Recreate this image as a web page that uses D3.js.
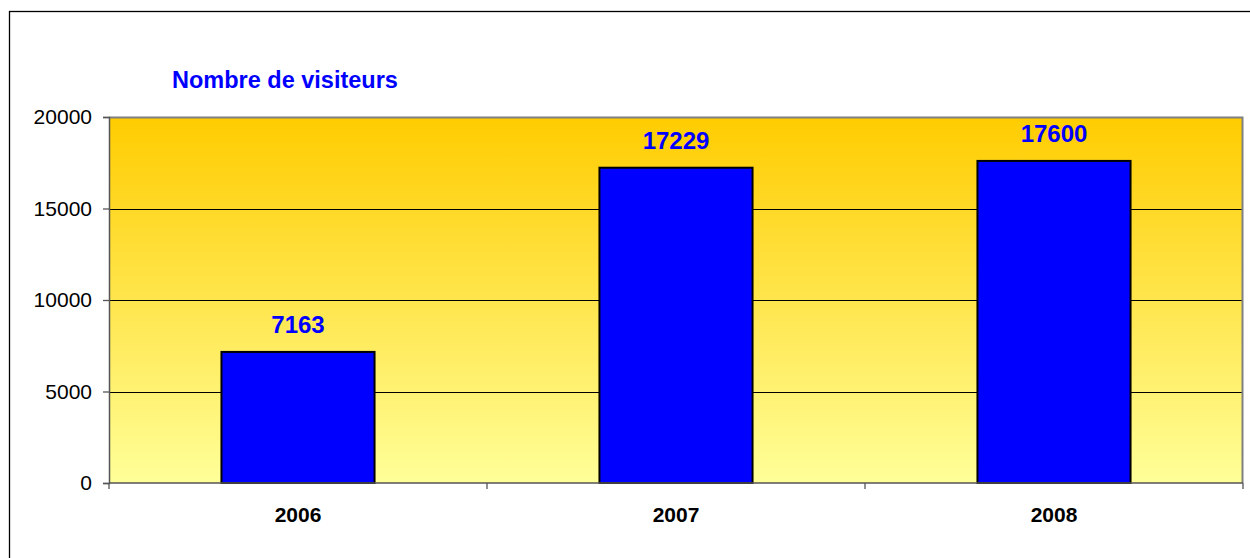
<!DOCTYPE html>
<html><head><meta charset="utf-8">
<script src="https://cdn.jsdelivr.net/npm/d3@7"></script>
<style>
html,body{margin:0;padding:0;background:#fff;}
svg{display:block;font-family:"Liberation Sans",Arial,sans-serif;}
</style></head>
<body>
<svg id="chart" width="1250" height="558"></svg>
<script>
const categories = ["2006", "2007", "2008"];
const visitors = [7163, 17229, 17600];
const yTicks = [0, 5000, 10000, 15000, 20000];
const title = "Nombre de visiteurs";

const svg = d3.select("#chart");
const m = {left: 109, top: 117, right: 1243, bottom: 483};

// outer frame
svg.append("rect").attr("x", 9.5).attr("y", 11.5).attr("width", 1260).attr("height", 570)
  .attr("fill", "#fff").attr("stroke", "#000").attr("stroke-width", 1.3);

const defs = svg.append("defs");
const grad = defs.append("linearGradient").attr("id", "bg").attr("x1", 0).attr("y1", 0).attr("x2", 0).attr("y2", 1);
grad.append("stop").attr("offset", "0%").attr("stop-color", "#FFCC00");
grad.append("stop").attr("offset", "100%").attr("stop-color", "#FFFF99");

const x = d3.scaleBand().domain(categories).range([m.left, m.right]).paddingInner(0.595).paddingOuter(0.2975);
const y = d3.scaleLinear().domain([0, 20000]).range([m.bottom, m.top]);

svg.append("rect").attr("x", m.left).attr("y", m.top).attr("width", m.right - m.left).attr("height", m.bottom - m.top)
  .attr("fill", "url(#bg)");

// gridlines
svg.append("g").selectAll("line").data(yTicks.filter(t => t > 0 && t < 20000)).join("line")
  .attr("x1", m.left).attr("x2", m.right).attr("y1", d => Math.round(y(d)) + 0.5).attr("y2", d => Math.round(y(d)) + 0.5)
  .attr("stroke", "#000").attr("stroke-width", 1);

// plot border top/right
svg.append("path").attr("d", `M${m.left},${m.top + 0.5}H${m.right - 0.5}V${m.bottom}`)
  .attr("fill", "none").attr("stroke", "#808080").attr("stroke-width", 2);

// bars
svg.append("g").selectAll("rect").data(visitors).join("rect")
  .attr("x", (d, i) => x(categories[i])).attr("width", x.bandwidth())
  .attr("y", d => y(d)).attr("height", d => y(0) - y(d))
  .attr("fill", "#0000FF").attr("stroke", "#000").attr("stroke-width", 2);

// value labels
svg.append("g").selectAll("text").data(visitors).join("text")
  .attr("x", (d, i) => x(categories[i]) + x.bandwidth() / 2).attr("y", d => y(d) - 19)
  .attr("text-anchor", "middle").attr("font-size", 24).attr("font-weight", "bold").attr("fill", "#0000FF")
  .text(d => d);

// y axis
const yAxis = d3.axisLeft(y).tickValues(yTicks).tickSize(6).tickPadding(11).tickFormat(d3.format("d"));
const gy = svg.append("g").attr("transform", `translate(${m.left},0)`).call(yAxis);
gy.select(".domain").attr("stroke", "#555").attr("stroke-width", 1.5);
gy.selectAll(".tick line").attr("stroke", "#555").attr("stroke-width", 1.3);
gy.selectAll(".tick text").attr("font-size", 21).attr("fill", "#000").attr("font-family", "Liberation Sans, Arial, sans-serif");

// x axis
const gx = svg.append("g").attr("transform", `translate(0,${m.bottom})`);
gx.append("line").attr("x1", m.left).attr("x2", m.right).attr("stroke", "#555").attr("stroke-width", 1.5);
const bounds = [m.left].concat(categories.map(c => x(c) + x.bandwidth() / 2 + x.step() / 2));
gx.selectAll("line.tk").data(bounds).join("line").attr("class", "tk")
  .attr("x1", d => d).attr("x2", d => d).attr("y1", 0).attr("y2", 6).attr("stroke", "#555").attr("stroke-width", 1.3);
gx.selectAll("text").data(categories).join("text")
  .attr("x", d => x(d) + x.bandwidth() / 2).attr("y", 39)
  .attr("text-anchor", "middle").attr("font-size", 21).attr("font-weight", "bold").attr("fill", "#000")
  .text(d => d);

// title
svg.append("text").attr("x", 172).attr("y", 88).attr("font-size", 23.5).attr("font-weight", "bold")
  .attr("fill", "#0000FF").text(title);
</script>
</body></html>
